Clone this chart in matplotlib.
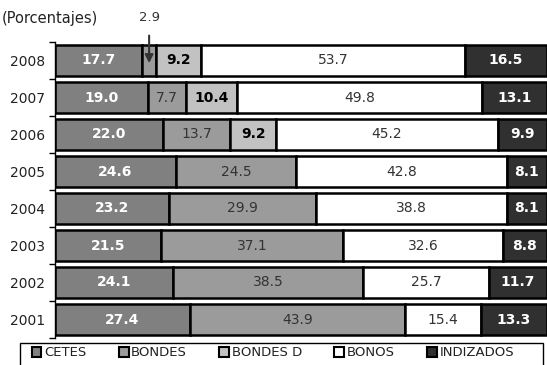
import numpy as np
import matplotlib
matplotlib.use('Agg')
import matplotlib.pyplot as plt
from matplotlib.patches import Patch, Rectangle

### data (porcentajes por instrumento)
years = ['2001', '2002', '2003', '2004', '2005', '2006', '2007', '2008']
series = ['CETES', 'BONDES', 'BONDES D', 'BONOS', 'INDIZADOS']
cetes = [27.4, 24.1, 21.5, 23.2, 24.6, 22.0, 19.0, 17.7]
bondes = [43.9, 38.5, 37.1, 29.9, 24.5, 13.7, 7.7, 2.9]
bondes_d = [0.0, 0.0, 0.0, 0.0, 0.0, 9.2, 10.4, 9.2]
bonos = [15.4, 25.7, 32.6, 38.8, 42.8, 45.2, 49.8, 53.7]
indizados = [13.3, 11.7, 8.8, 8.1, 8.1, 9.9, 13.1, 16.5]

values = [cetes, bondes, bondes_d, bonos, indizados]
fills = ['#808080', '#9b9b9b', '#c2c2c2', '#ffffff', '#303030']
txt_color = ['white', '#333333', 'black', '#333333', 'white']
txt_weight = ['bold', 'normal', 'bold', 'normal', 'bold']

plt.rcParams['font.family'] = ['DejaVu Sans']

fig = plt.figure(figsize=(5.47, 3.65), dpi=100)
ax = fig.add_axes([55/547, 1 - 338/365, 491.5/547, 296/365])

y = np.arange(len(years))
left = np.zeros(len(years))
for k, vals in enumerate(values):
    vals = np.array(vals)
    ax.barh(y, vals, left=left, height=0.86, color=fills[k],
            edgecolor='black', linewidth=1.8)
    for i, v in enumerate(vals):
        if v == 0:
            continue
        # the thin 2008 BONDES slice gets an arrow label instead
        if k == 1 and years[i] == '2008':
            ax.annotate(f'{v:.1f}', xy=(left[i] + v / 2, y[i] - 0.07),
                        xytext=(left[i] + v / 2, y[i] + 1.15),
                        ha='center', va='center', fontsize=9.5, color='#333333',
                        annotation_clip=False,
                        arrowprops=dict(arrowstyle='-|>', color='#333333',
                                        lw=1.5, mutation_scale=12,
                                        shrinkA=6, shrinkB=0))
            continue
        ax.text(left[i] + v / 2, y[i], f'{v:.1f}', ha='center', va='center',
                fontsize=10, color=txt_color[k], fontweight=txt_weight[k])
    left += vals

ax.set_xlim(0, 100)
ax.set_ylim(-0.5, len(years) - 0.5)
ax.set_yticks(y)
ax.set_yticklabels(years, fontsize=10, color='#222222')
ax.set_yticks(np.arange(-0.5, len(years)), minor=True)
ax.tick_params(axis='y', which='major', length=0, pad=7)
ax.tick_params(axis='y', which='minor', length=4, width=1, direction='out')
ax.set_xticks([])
for s in ['top', 'right', 'bottom']:
    ax.spines[s].set_visible(False)
ax.spines['left'].set_linewidth(1)

fig.text(0.004, 1 - 18/365, '(Porcentajes)', fontsize=10.5, color='#222222',
         ha='left', va='center')

# legend frame drawn separately so it can run past the bottom edge
fig.patches.append(Rectangle((20/547, -0.05), 523/547, 0.05 + 22/365,
                             transform=fig.transFigure, fill=False,
                             edgecolor='black', linewidth=1))
handles = [Patch(facecolor=fills[k], edgecolor='black', linewidth=1.5)
           for k in range(len(series))]
leg = fig.legend(handles, series, loc='center', ncol=5,
                 bbox_to_anchor=(273/547, 1 - 353/365), fontsize=9.5,
                 frameon=False, borderpad=0,
                 handlelength=0.75, handleheight=0.75, handletextpad=0.2,
                 columnspacing=2.45, labelcolor='#222222')

fig.savefig('out.png', dpi=100)
